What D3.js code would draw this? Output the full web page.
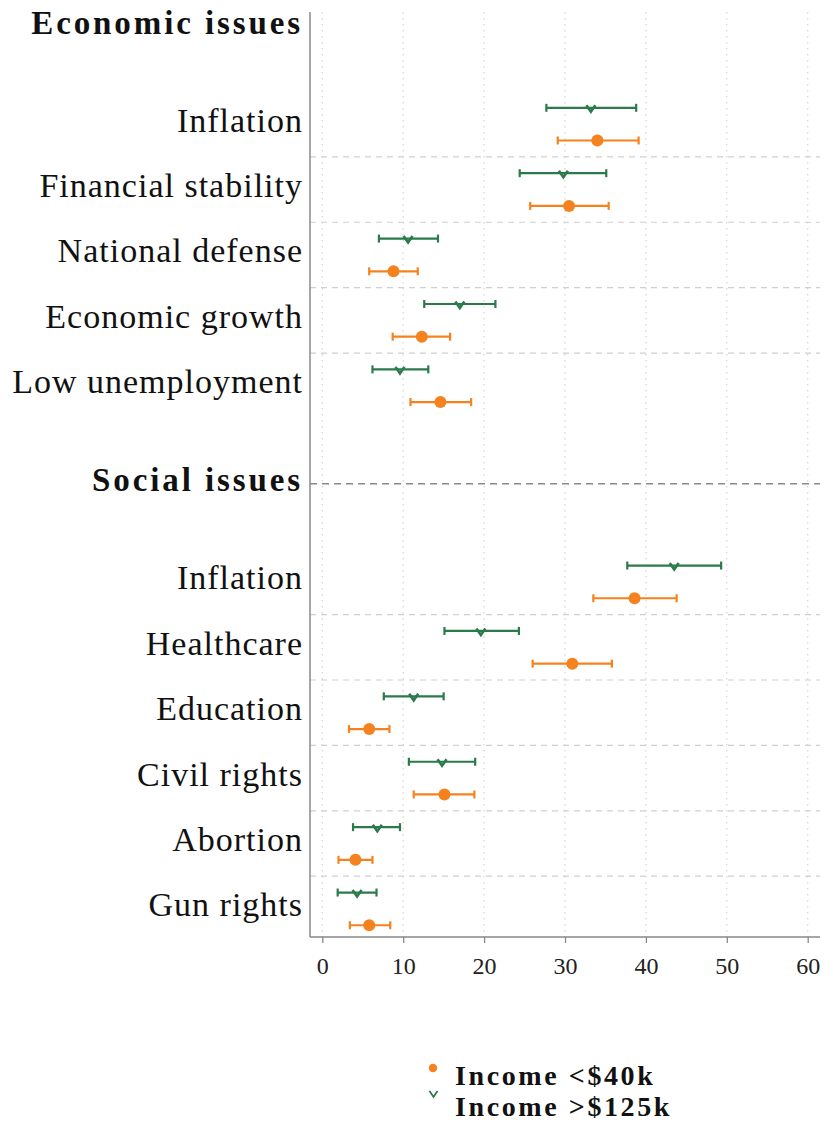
<!DOCTYPE html>
<html>
<head>
<meta charset="utf-8">
<script src="https://cdn.jsdelivr.net/npm/d3@7"></script>
<style>
  html, body { margin: 0; padding: 0; background: #fff; }
  svg { display: block; }
</style>
</head>
<body>
<svg id="chart" width="824" height="1121"></svg>
<script>
// ---- data ----
const groups = ["Economic issues", "Social issues"];
const econCats = ["Inflation", "Financial stability", "National defense", "Economic growth", "Low unemployment"];
const socialCats = ["Inflation", "Healthcare", "Education", "Civil rights", "Abortion", "Gun rights"];

// Income < $40k (orange)
const econLowMean = [34.0, 30.5, 8.8, 12.3, 14.6];
const econLowLo   = [29.1, 25.7, 5.8, 8.7, 10.9];
const econLowHi   = [39.1, 35.4, 11.8, 15.8, 18.4];
const socLowMean  = [38.6, 30.9, 5.8, 15.1, 4.1, 5.8];
const socLowLo    = [33.5, 26.0, 3.3, 11.3, 2.0, 3.4];
const socLowHi    = [43.8, 35.8, 8.3, 18.8, 6.2, 8.4];

// Income > $125k (green)
const econHighMean = [33.2, 29.8, 10.6, 17.0, 9.6];
const econHighLo   = [27.7, 24.4, 7.0, 12.6, 6.2];
const econHighHi   = [38.8, 35.1, 14.3, 21.4, 13.1];
const socHighMean  = [43.5, 19.6, 11.3, 14.8, 6.8, 4.3];
const socHighLo    = [37.7, 15.1, 7.6, 10.7, 3.8, 1.9];
const socHighHi    = [49.3, 24.3, 15.0, 18.9, 9.6, 6.7];

const xTicks = [0, 10, 20, 30, 40, 50, 60];
const seriesNames = ["Income <$40k", "Income >$125k"];

// ---- build rows ----
const groupCats = [econCats, socialCats];
const lowData = [[econLowMean, econLowLo, econLowHi], [socLowMean, socLowLo, socLowHi]];
const highData = [[econHighMean, econHighLo, econHighHi], [socHighMean, socHighLo, socHighHi]];

const headers = [], items = [], seps = [];
let pos = 0;
groupCats.forEach((cats, g) => {
  headers.push({ label: groups[g], pos });
  pos += 1.5;
  cats.forEach((c, i) => {
    items.push({
      label: c, pos,
      low: { m: lowData[g][0][i], lo: lowData[g][1][i], hi: lowData[g][2][i] },
      high: { m: highData[g][0][i], lo: highData[g][1][i], hi: highData[g][2][i] }
    });
    if (i < cats.length - 1) seps.push(pos + 0.5);
    pos += 1;
  });
  pos += 0.5;
});

// ---- layout ----
const svg = d3.select("#chart");
const plotLeft = 310, plotRight = 820, plotTop = 12, plotBottom = 937;
const x = d3.scaleLinear().domain([0, 60]).range([322.3, 807.7]);
const y = d3.scaleLinear().domain([-0.215, 13.93]).range([plotTop, plotBottom]);
const ORANGE = "#f5821f", GREEN = "#2b7a4b";
const serif = "'Liberation Serif', 'Times New Roman', serif";

// vertical dotted gridlines
svg.append("g").selectAll("line").data(xTicks).join("line")
  .attr("x1", d => x(d)).attr("x2", d => x(d))
  .attr("y1", plotTop).attr("y2", plotBottom)
  .attr("stroke", "#d4d4d4").attr("stroke-width", 1.2)
  .attr("stroke-dasharray", "1.5,4.5");

// separators
svg.append("g").selectAll("line").data(seps).join("line")
  .attr("x1", plotLeft).attr("x2", plotRight)
  .attr("y1", d => y(d)).attr("y2", d => y(d))
  .attr("stroke", "#cfcfcf").attr("stroke-width", 1.2)
  .attr("stroke-dasharray", "6,5");

// group header lines (only for second group)
svg.append("g").selectAll("line").data(headers.slice(1)).join("line")
  .attr("x1", plotLeft).attr("x2", plotRight)
  .attr("y1", d => y(d.pos)).attr("y2", d => y(d.pos))
  .attr("stroke", "#8a8a8a").attr("stroke-width", 1.6)
  .attr("stroke-dasharray", "7,5");

// axes
const xAxis = d3.axisBottom(x).tickValues(xTicks).tickSize(6).tickPadding(14);
const gx = svg.append("g").attr("transform", `translate(0,${plotBottom})`).call(xAxis);
gx.select(".domain").remove();
gx.selectAll(".tick line").attr("stroke", "#888").attr("stroke-width", 1.3);
gx.selectAll(".tick text").attr("font-family", serif).attr("font-size", 24).attr("fill", "#222");
svg.append("line").attr("x1", plotLeft).attr("x2", plotRight)
  .attr("y1", plotBottom).attr("y2", plotBottom).attr("stroke", "#888").attr("stroke-width", 1.5);
svg.append("line").attr("x1", plotLeft).attr("x2", plotLeft)
  .attr("y1", plotTop).attr("y2", plotBottom).attr("stroke", "#888").attr("stroke-width", 1.5);

// labels
svg.append("g").selectAll("text").data(items).join("text")
  .attr("x", 303).attr("y", d => y(d.pos) + 7.5)
  .attr("text-anchor", "end")
  .attr("font-family", serif).attr("font-size", 34).attr("letter-spacing", 1)
  .attr("fill", "#111").text(d => d.label);
svg.append("g").selectAll("text").data(headers).join("text")
  .attr("x", 303).attr("y", d => y(d.pos) + 7.5)
  .attr("text-anchor", "end")
  .attr("font-family", serif).attr("font-size", 33).attr("font-weight", "bold")
  .attr("letter-spacing", 2.9)
  .attr("fill", "#111").text(d => d.label);

// error bars
function drawSeries(key, off, color) {
  const g = svg.append("g");
  const rows = items.map(d => ({ pos: d.pos + off, v: d[key] }));
  g.selectAll("line.bar").data(rows).join("line").attr("class", "bar")
    .attr("x1", d => x(d.v.lo)).attr("x2", d => x(d.v.hi))
    .attr("y1", d => y(d.pos)).attr("y2", d => y(d.pos))
    .attr("stroke", color).attr("stroke-width", 2.2);
  ["lo", "hi"].forEach(k => {
    g.selectAll("line.cap" + k).data(rows).join("line").attr("class", "cap" + k)
      .attr("x1", d => x(d.v[k])).attr("x2", d => x(d.v[k]))
      .attr("y1", d => y(d.pos) - 4).attr("y2", d => y(d.pos) + 4)
      .attr("stroke", color).attr("stroke-width", 2.2);
  });
  return { g, rows };
}
const hi = drawSeries("high", -0.25, GREEN);
hi.g.selectAll("path.mk").data(hi.rows).join("path").attr("class", "mk")
  .attr("d", d => `M${x(d.v.m) - 4.5},${y(d.pos) - 2.5} L${x(d.v.m)},${y(d.pos) + 4} L${x(d.v.m) + 4.5},${y(d.pos) - 2.5}`)
  .attr("fill", "none").attr("stroke", GREEN).attr("stroke-width", 2.6);
const lo = drawSeries("low", 0.25, ORANGE);
lo.g.selectAll("circle").data(lo.rows).join("circle")
  .attr("cx", d => x(d.v.m)).attr("cy", d => y(d.pos)).attr("r", 6)
  .attr("fill", ORANGE);

// legend
const legend = svg.append("g");
const legRows = [
  { name: seriesNames[0], color: ORANGE, type: "dot", my: 1068, ty: 1085 },
  { name: seriesNames[1], color: GREEN, type: "v", my: 1094, ty: 1116 }
];
legend.selectAll("text").data(legRows).join("text")
  .attr("x", 455).attr("y", d => d.ty)
  .attr("font-family", serif).attr("font-size", 28).attr("font-weight", "bold")
  .attr("letter-spacing", 2.6).attr("fill", "#111").text(d => d.name);
legend.selectAll("circle").data(legRows.filter(d => d.type === "dot")).join("circle")
  .attr("cx", 433).attr("cy", d => d.my).attr("r", 4.2).attr("fill", d => d.color);
legend.selectAll("path").data(legRows.filter(d => d.type === "v")).join("path")
  .attr("d", d => `M429.5,${d.my - 3} L433.5,${d.my + 3} L437.5,${d.my - 3}`)
  .attr("fill", "none").attr("stroke", d => d.color).attr("stroke-width", 1.8);
</script>
</body>
</html>
